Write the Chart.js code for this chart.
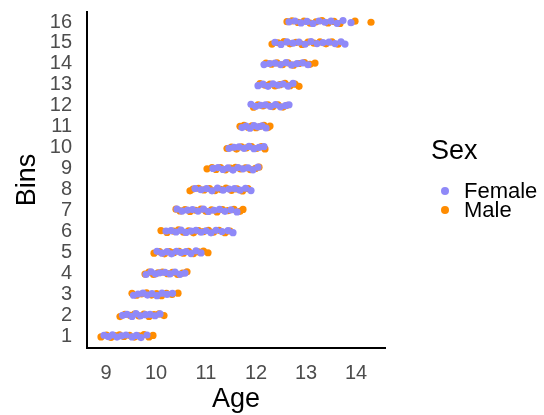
<!DOCTYPE html>
<html>
<head>
<meta charset="utf-8">
<script src="https://cdn.jsdelivr.net/npm/chart.js@4.4.1/dist/chart.umd.min.js"></script>
<style>
  html, body { margin: 0; padding: 0; background: #fff; }
  #wrap { width: 544px; height: 415px; position: relative; }
</style>
</head>
<body>
<div id="wrap"><canvas id="binChart"></canvas></div>
<script>
const sexLabels = ['Female', 'Male'];
const sexColors = ['#8f89f8', '#ff8c00'];
const binTicks = [1, 2, 3, 4, 5, 6, 7, 8, 9, 10, 11, 12, 13, 14, 15, 16];
const ageTicks = [9, 10, 11, 12, 13, 14];

// [age, bin (with jitter)] one line per bin
const femalePoints = [
  [8.96,1.04],[9.05,0.97],[9.13,1.06],[9.22,0.95],[9.31,1.01],[9.40,1.05],[9.52,0.96],[9.61,1.03],[9.70,0.93],[9.82,1.05],
  [9.33,1.99],[9.42,2.04],[9.52,1.94],[9.60,2.07],[9.69,1.97],[9.79,2.02],[9.88,2.04],[9.98,1.97],[10.08,2.06],
  [9.55,2.95],[9.64,3.01],[9.74,3.05],[9.83,2.96],[9.92,3.03],[10.02,2.93],[10.12,3.05],[10.22,2.99],[10.33,3.04],
  [9.80,3.94],[9.90,4.07],[9.99,3.97],[10.08,4.02],[10.18,4.04],[10.28,3.97],[10.38,4.06],[10.48,3.95],[10.58,4.01],
  [10.02,5.05],[10.12,4.96],[10.22,5.03],[10.31,4.93],[10.41,5.05],[10.50,4.99],[10.60,5.04],[10.70,4.94],[10.80,5.07],[10.90,4.97],
  [10.20,6.02],[10.30,6.04],[10.40,5.97],[10.50,6.06],[10.60,5.95],[10.70,6.01],[10.80,6.05],[10.90,5.96],[11.00,6.03],[11.10,5.93],[11.20,6.05],[11.32,5.99],[11.44,6.04],[11.54,5.94],
  [10.42,7.07],[10.52,6.97],[10.63,7.02],[10.73,7.04],[10.84,6.97],[10.95,7.06],[11.05,6.95],[11.16,7.01],[11.27,7.05],[11.38,6.96],[11.50,7.03],[11.62,6.93],
  [10.78,8.05],[10.90,7.99],[11.01,8.04],[11.12,7.94],[11.23,8.07],[11.34,7.97],[11.46,8.02],[11.57,8.04],[11.68,7.97],[11.79,8.06],[11.90,7.95],
  [11.14,9.01],[11.24,9.05],[11.34,8.96],[11.44,9.03],[11.54,8.93],[11.64,9.05],[11.74,8.99],[11.84,9.04],[11.94,8.94],[12.04,9.07],
  [11.46,9.97],[11.56,10.02],[11.66,10.04],[11.76,9.97],[11.86,10.06],[11.96,9.95],[12.06,10.01],[12.16,10.05],
  [11.72,10.96],[11.80,11.03],[11.88,10.93],[11.96,11.05],[12.04,10.99],[12.12,11.04],[12.20,10.94],
  [11.90,12.07],[11.99,11.97],[12.09,12.02],[12.19,12.04],[12.29,11.97],[12.39,12.06],[12.49,11.95],[12.59,12.01],[12.66,12.05],
  [12.04,12.96],[12.14,13.03],[12.24,12.93],[12.34,13.05],[12.44,12.99],[12.54,13.04],[12.64,12.94],[12.74,13.07],
  [12.16,13.97],[12.27,14.02],[12.38,14.04],[12.49,13.97],[12.60,14.06],[12.71,13.95],[12.82,14.01],[12.93,14.05],[13.04,13.96],
  [12.38,15.03],[12.50,14.93],[12.62,15.05],[12.74,14.99],[12.86,15.04],[12.98,14.94],[13.10,15.07],[13.22,14.97],[13.34,15.02],[13.46,15.04],[13.58,14.97],[13.70,15.06],[13.78,14.95],
  [12.66,16.01],[12.78,16.05],[12.90,15.96],[13.02,16.03],[13.14,15.93],[13.26,16.05],[13.38,15.99],[13.50,16.04],[13.62,15.94],[13.74,16.07],[13.90,15.97]
];

const malePoints = [
  [8.90,0.96],[9.01,1.05],[9.10,0.94],[9.18,1.02],[9.27,1.06],[9.36,0.98],[9.47,1.04],[9.57,0.95],[9.66,1.01],[9.76,1.07],[9.86,0.96],[9.94,1.03],
  [9.28,1.93],[9.38,2.04],[9.48,1.99],[9.57,2.05],[9.66,1.96],[9.76,2.05],[9.86,1.94],[9.96,2.02],[10.06,2.06],[10.16,1.98],
  [9.52,3.04],[9.61,2.95],[9.71,3.01],[9.81,3.07],[9.91,2.96],[10.01,3.03],[10.11,2.93],[10.21,3.04],[10.32,2.99],[10.44,3.05],
  [9.78,3.96],[9.86,4.05],[9.95,3.94],[10.04,4.02],[10.13,4.06],[10.23,3.98],[10.33,4.04],[10.43,3.95],[10.53,4.01],[10.62,4.07],
  [9.96,4.96],[10.07,5.03],[10.17,4.93],[10.27,5.04],[10.36,4.99],[10.46,5.05],[10.55,4.96],[10.65,5.05],[10.75,4.94],[10.85,5.02],[10.95,5.06],[11.04,4.98],
  [10.10,6.04],[10.22,5.95],[10.35,6.01],[10.45,6.07],[10.55,5.96],[10.65,6.03],[10.75,5.93],[10.85,6.04],[10.95,5.99],[11.05,6.05],[11.15,5.96],[11.26,6.05],[11.38,5.94],[11.48,6.02],
  [10.40,7.06],[10.48,6.98],[10.58,7.04],[10.68,6.95],[10.79,7.01],[10.90,7.07],[11.00,6.96],[11.11,7.03],[11.22,6.93],[11.33,7.04],[11.44,6.99],[11.56,7.05],[11.68,6.96],[11.74,7.05],
  [10.68,7.94],[10.74,8.02],[10.85,8.06],[10.96,7.98],[11.07,8.04],[11.18,7.95],[11.29,8.01],[11.40,8.07],[11.51,7.96],[11.62,8.03],[11.73,7.93],[11.84,8.04],
  [11.02,8.99],[11.12,9.05],[11.20,8.96],[11.29,9.05],[11.39,8.94],[11.49,9.02],[11.59,9.06],[11.69,8.98],[11.79,9.04],[11.89,8.95],[11.99,9.01],[12.06,9.07],
  [11.42,9.96],[11.51,10.03],[11.61,9.93],[11.71,10.04],[11.81,9.99],[11.91,10.05],[12.01,9.96],[12.11,10.05],[12.18,9.94],
  [11.68,11.02],[11.76,11.06],[11.84,10.98],[11.92,11.04],[12.00,10.95],[12.08,11.01],[12.16,11.07],[12.24,10.96],[12.28,11.03],
  [11.95,11.93],[12.04,12.04],[12.14,11.99],[12.24,12.05],[12.34,11.96],[12.44,12.05],[12.54,11.94],[12.62,12.02],
  [12.08,13.06],[12.18,12.98],[12.28,13.04],[12.38,12.95],[12.48,13.01],[12.58,13.07],[12.68,12.96],[12.78,13.03],[12.86,12.93],
  [12.20,14.04],[12.31,13.99],[12.42,14.05],[12.53,13.96],[12.64,14.05],[12.75,13.94],[12.86,14.02],[12.97,14.06],[13.08,13.98],[13.18,14.04],
  [12.32,14.95],[12.44,15.01],[12.56,15.07],[12.68,14.96],[12.80,15.03],[12.92,14.93],[13.04,15.04],[13.16,14.99],[13.28,15.05],[13.40,14.96],[13.52,15.05],[13.64,14.94],
  [12.62,16.02],[12.72,16.06],[12.84,15.98],[12.96,16.04],[13.08,15.95],[13.20,16.01],[13.32,16.07],[13.44,15.96],[13.56,16.03],[13.68,15.93],[13.98,16.04],[14.30,15.99]
];

const FONT = '"Liberation Sans", Arial, sans-serif';
Chart.defaults.font.family = FONT;

// legend drawn to the right of the panel, ggplot style
const sexLegend = {
    id: 'sexLegend',
    afterDraw(chart) {
        const ctx = chart.ctx;
        const x0 = chart.chartArea.right;
        ctx.save();
        ctx.textBaseline = 'middle';
        ctx.textAlign = 'left';
        ctx.fillStyle = '#000';
        ctx.font = '27px ' + FONT;
        ctx.fillText('Sex', x0 + 46, 152);
        ctx.font = '22px ' + FONT;
        sexLabels.forEach((label, i) => {
            const y = 191 + i * 19;
            ctx.fillStyle = sexColors[i];
            ctx.beginPath();
            ctx.arc(x0 + 60, y, 4, 0, Math.PI * 2);
            ctx.fill();
            ctx.fillStyle = '#000';
            ctx.fillText(label, x0 + 79, y + 1);
        });
        ctx.restore();
    }
};

// keep the panel edges fixed, no extra room for tick labels
const noScalePadding = s => {
    s.paddingTop = 0;
    s.paddingBottom = 0;
    s.paddingLeft = 0;
    s.paddingRight = 0;
};

const toXY = pts => pts.map(p => ({ x: p[0], y: p[1] }));

const ctx = document.getElementById('binChart').getContext('2d');
new Chart(ctx, {
    type: 'scatter',
    data: {
        datasets: [
            { label: sexLabels[0], data: toXY(femalePoints), backgroundColor: sexColors[0] },
            { label: sexLabels[1], data: toXY(malePoints), backgroundColor: sexColors[1] }
        ]
    },
    options: {
        responsive: true,
        maintainAspectRatio: false,
        animation: false,
        layout: { padding: { top: 12, right: 159, bottom: 0, left: 0 } },
        elements: { point: { radius: 3.6, borderWidth: 0, hoverRadius: 3.6 } },
        plugins: {
            legend: { display: false },
            tooltip: { enabled: false }
        },
        scales: {
            x: {
                type: 'linear',
                min: 8.62,
                max: 14.58,
                afterBuildTicks: s => { s.ticks = ageTicks.map(v => ({ value: v })); },
                afterFit: s => { s.height = 67; noScalePadding(s); },
                grid: { display: false, drawTicks: false },
                border: { display: true, color: '#000', width: 2 },
                ticks: { color: '#4d4d4d', font: { size: 20 }, padding: 13, autoSkip: false, maxRotation: 0 },
                title: { display: true, text: 'Age', color: '#000', font: { size: 27, lineHeight: 1 }, padding: { top: 0, bottom: 1.5 } }
            },
            y: {
                type: 'linear',
                min: 0.43,
                max: 16.48,
                afterBuildTicks: s => { s.ticks = binTicks.map(v => ({ value: v })); },
                afterFit: s => { s.width = 87; noScalePadding(s); },
                grid: { display: false, drawTicks: false },
                border: { display: true, color: '#000', width: 2 },
                ticks: { color: '#4d4d4d', font: { size: 20 }, padding: 15, autoSkip: false },
                title: { display: true, text: 'Bins', color: '#000', font: { size: 27, lineHeight: 1 }, padding: { top: 14, bottom: 0 } }
            }
        }
    },
    plugins: [sexLegend]
});
</script>
</body>
</html>
